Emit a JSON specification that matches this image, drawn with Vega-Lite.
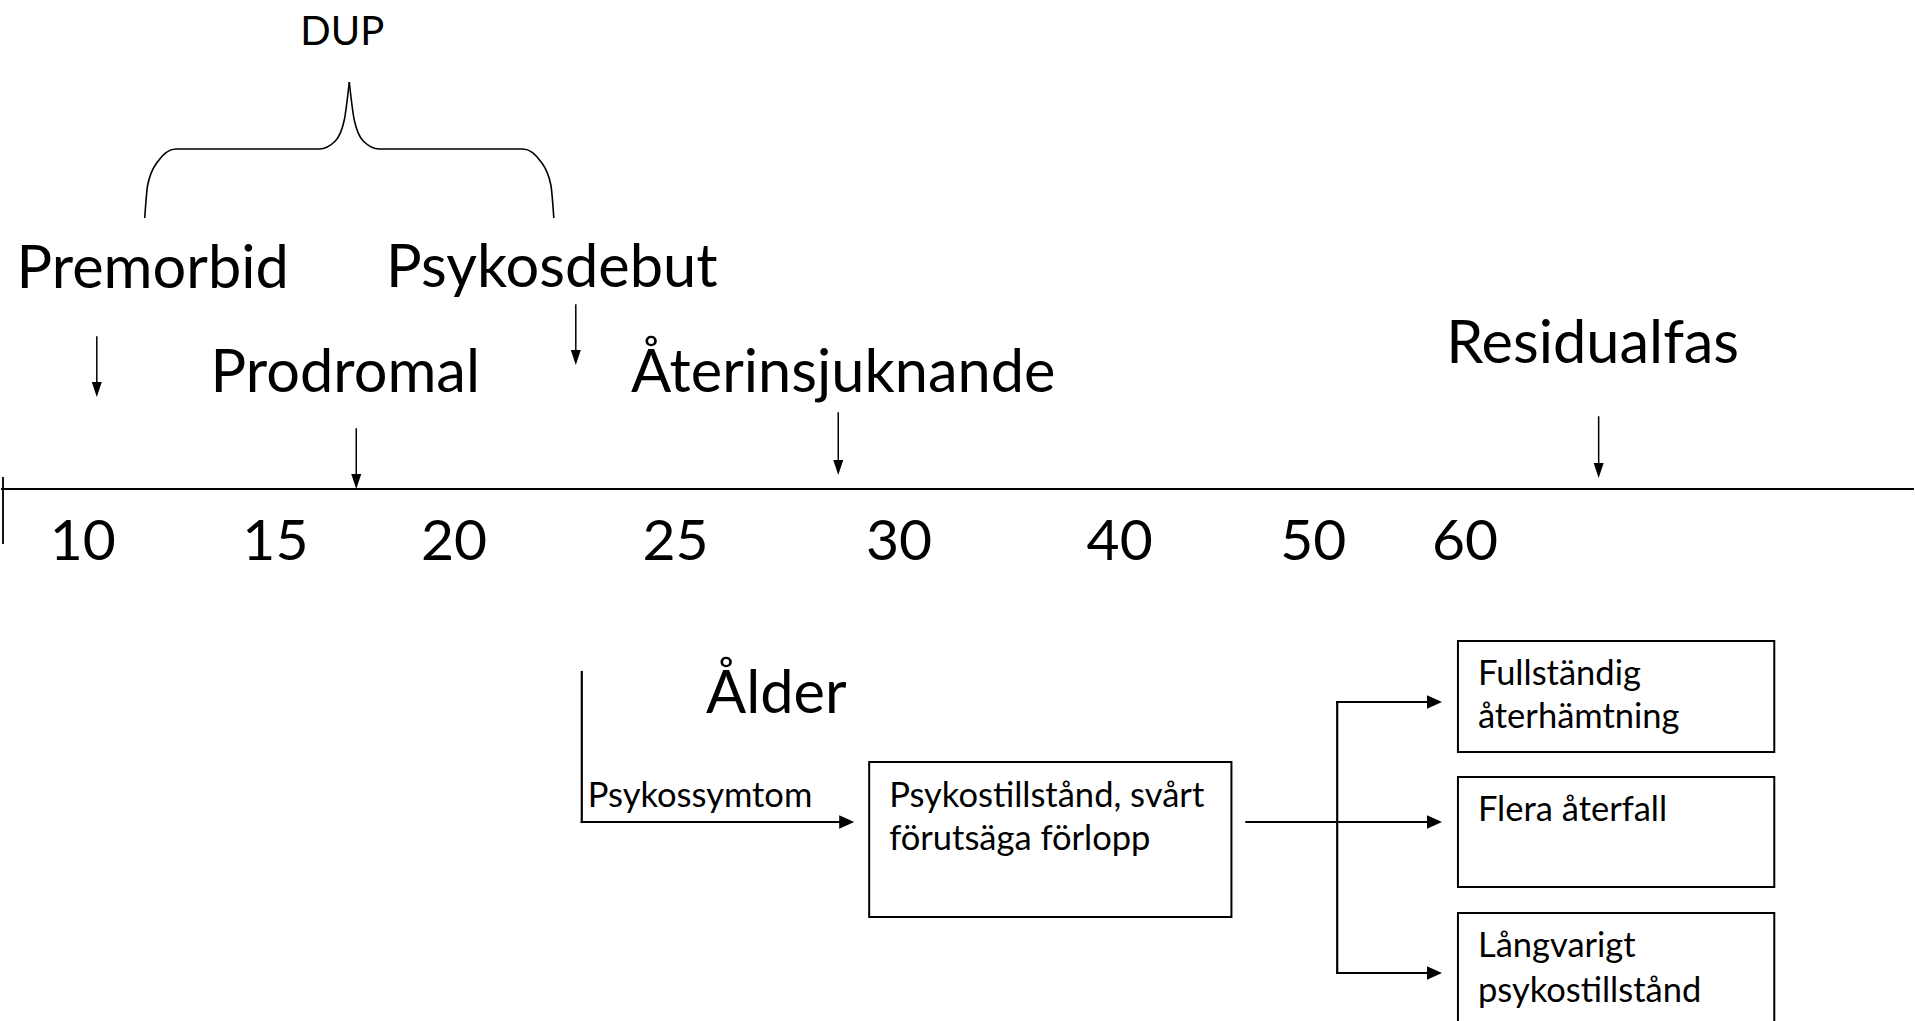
{
  "$schema": "https://vega.github.io/schema/vega-lite/v6.json",
  "width": 1915,
  "height": 1021,
  "autosize": {"type": "fit", "contains": "padding"},
  "padding": 0,
  "background": "white",
  "config": {"view": {"stroke": null}, "text": {"font": "Lato", "color": "black"}},
  "datasets": {
    "lines": [
      {"part": "tunn", "x": 95, "y": 337, "x2": 95, "y2": 392},
      {"part": "tunn", "x": 575, "y": 305, "x2": 575, "y2": 360},
      {"part": "tunn", "x": 355, "y": 429, "x2": 355, "y2": 484},
      {"part": "tunn", "x": 838, "y": 413, "x2": 838, "y2": 470},
      {"part": "tunn", "x": 1600, "y": 417, "x2": 1600, "y2": 473},
      {"part": "axel", "x": 0, "y": 489, "x2": 1915, "y2": 489},
      {"part": "axel", "x": 1, "y": 478, "x2": 1, "y2": 543},
      {"part": "flöde", "x": 581, "y": 672, "x2": 581, "y2": 822},
      {"part": "flöde", "x": 581, "y": 822, "x2": 842, "y2": 822},
      {"part": "flöde", "x": 1247, "y": 822, "x2": 1432, "y2": 822},
      {"part": "flöde", "x": 1338, "y": 702, "x2": 1338, "y2": 973},
      {"part": "flöde", "x": 1338, "y": 702, "x2": 1432, "y2": 702},
      {"part": "flöde", "x": 1338, "y": 973, "x2": 1432, "y2": 973}
    ],
    "heads": [
      {"dir": "ned", "x": 95, "y": 397},
      {"dir": "ned", "x": 575, "y": 365},
      {"dir": "ned", "x": 355, "y": 489},
      {"dir": "ned", "x": 838, "y": 475},
      {"dir": "ned", "x": 1600, "y": 478},
      {"dir": "höger", "x": 854, "y": 822},
      {"dir": "höger", "x": 1443, "y": 702},
      {"dir": "höger", "x": 1443, "y": 822},
      {"dir": "höger", "x": 1443, "y": 973}
    ],
    "boxes": [
      {"box": "Psykostillstånd", "x": 869, "x2": 1232, "y": 762, "y2": 917},
      {"box": "Fullständig", "x": 1459, "x2": 1776, "y": 641, "y2": 752},
      {"box": "Flera", "x": 1459, "x2": 1776, "y": 777, "y2": 887},
      {"box": "Långvarigt", "x": 1459, "x2": 1776, "y": 913, "y2": 1045}
    ],
    "brace": [
      {"side": "v", "o": 1, "x": 143, "y": 218},
      {"side": "v", "o": 2, "x": 146, "y": 185},
      {"side": "v", "o": 3, "x": 155, "y": 163},
      {"side": "v", "o": 4, "x": 174, "y": 149},
      {"side": "v", "o": 5, "x": 318, "y": 149},
      {"side": "v", "o": 6, "x": 334, "y": 141},
      {"side": "v", "o": 7, "x": 343, "y": 120},
      {"side": "v", "o": 8, "x": 348, "y": 82},
      {"side": "h", "o": 1, "x": 348, "y": 82},
      {"side": "h", "o": 2, "x": 353, "y": 120},
      {"side": "h", "o": 3, "x": 362, "y": 141},
      {"side": "h", "o": 4, "x": 378, "y": 149},
      {"side": "h", "o": 5, "x": 522, "y": 149},
      {"side": "h", "o": 6, "x": 541, "y": 163},
      {"side": "h", "o": 7, "x": 550, "y": 185},
      {"side": "h", "o": 8, "x": 553, "y": 218}
    ],
    "big": [
      {"text": "Premorbid", "x": 151, "y": 288},
      {"text": "Psykosdebut", "x": 551, "y": 287},
      {"text": "Prodromal", "x": 344, "y": 392},
      {"text": "Återinsjuknande", "x": 843, "y": 392},
      {"text": "Residualfas", "x": 1594, "y": 363},
      {"text": "Ålder", "x": 776, "y": 713}
    ],
    "ticks": [
      {"text": "10", "x": 81, "y": 560},
      {"text": "15", "x": 274, "y": 560},
      {"text": "20", "x": 453, "y": 560},
      {"text": "25", "x": 675, "y": 560},
      {"text": "30", "x": 899, "y": 560},
      {"text": "40", "x": 1120, "y": 560},
      {"text": "50", "x": 1314, "y": 560},
      {"text": "60", "x": 1466, "y": 560}
    ],
    "dup": [{"text": "DUP", "x": 341, "y": 45}],
    "small": [
      {"text": "Psykossymtom", "x": 587, "y": 807},
      {"text": "Psykostillstånd, svårt", "x": 889, "y": 807},
      {"text": "förutsäga förlopp", "x": 889, "y": 850},
      {"text": "Fullständig", "x": 1479, "y": 685},
      {"text": "återhämtning", "x": 1479, "y": 728},
      {"text": "Flera återfall", "x": 1479, "y": 821},
      {"text": "Långvarigt", "x": 1479, "y": 957},
      {"text": "psykostillstånd", "x": 1479, "y": 1002}
    ]
  },
  "encoding": {
    "x": {"field": "x", "type": "quantitative", "scale": {"domain": [0, 1915], "nice": false, "zero": false}, "axis": null},
    "y": {"field": "y", "type": "quantitative", "scale": {"domain": [0, 1021], "reverse": true, "nice": false, "zero": false}, "axis": null}
  },
  "layer": [
    {
      "data": {"name": "boxes"},
      "mark": {"type": "rect", "fill": "white", "stroke": "black", "strokeWidth": 2, "clip": true},
      "encoding": {"x2": {"field": "x2"}, "y2": {"field": "y2"}}
    },
    {
      "data": {"name": "lines"},
      "mark": {"type": "rule", "color": "black", "strokeCap": "square"},
      "encoding": {
        "x2": {"field": "x2"},
        "y2": {"field": "y2"},
        "strokeWidth": {"field": "part", "type": "nominal", "scale": {"domain": ["tunn", "axel", "flöde"], "range": [1.5, 2.2, 2.6]}, "legend": null}
      }
    },
    {
      "data": {"name": "brace"},
      "mark": {"type": "line", "color": "black", "strokeWidth": 1.6, "interpolate": "monotone"},
      "encoding": {"detail": {"field": "side"}, "order": {"field": "o", "type": "quantitative"}}
    },
    {
      "data": {"name": "heads"},
      "mark": {"type": "point", "filled": true, "color": "black", "opacity": 1, "size": 225, "strokeWidth": 0},
      "encoding": {
        "shape": {"field": "dir", "type": "nominal", "scale": {"domain": ["ned", "höger"], "range": ["M -0.667 -2 L 0.667 -2 L 0 0 Z", "M -2 -0.9 L -2 0.9 L 0 0 Z"]}, "legend": null}
      }
    },
    {
      "data": {"name": "big"},
      "mark": {"type": "text", "fontSize": 59.5, "align": "center", "baseline": "alphabetic"},
      "encoding": {"text": {"field": "text"}}
    },
    {
      "data": {"name": "ticks"},
      "mark": {"type": "text", "fontSize": 57, "align": "center", "baseline": "alphabetic"},
      "encoding": {"text": {"field": "text"}}
    },
    {
      "data": {"name": "dup"},
      "mark": {"type": "text", "fontSize": 40, "align": "center", "baseline": "alphabetic"},
      "encoding": {"text": {"field": "text"}}
    },
    {
      "data": {"name": "small"},
      "mark": {"type": "text", "fontSize": 34.5, "align": "left", "baseline": "alphabetic"},
      "encoding": {"text": {"field": "text"}}
    }
  ]
}
